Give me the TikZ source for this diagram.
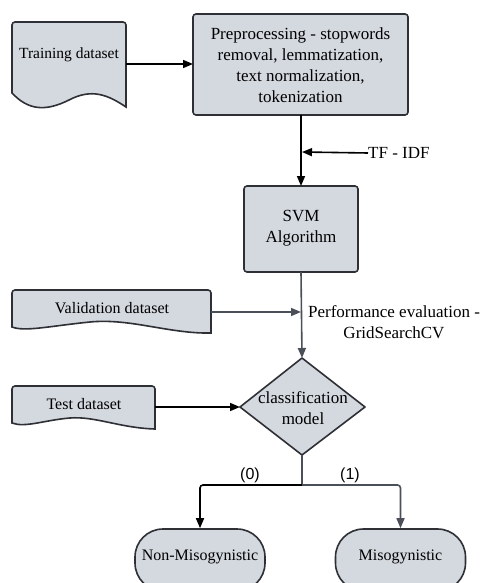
\documentclass[tikz,border=0pt]{standalone}
\usepackage{fontspec}
\setmainfont{Liberation Serif}
\newfontfamily\lsans{Liberation Sans}
\usetikzlibrary{arrows.meta}
\definecolor{boxfill}{HTML}{D4D8DF}
\definecolor{edge}{HTML}{2E3035}
\definecolor{grayline}{HTML}{4B5058}
\tikzset{
  shp/.style={draw=edge, fill=boxfill, line width=1.6pt},
  rbox/.style={shp, rounded corners=3pt},
  lbl/.style={font=\fontsize{17}{21}\selectfont, align=center, inner sep=0pt},
  conn/.style={line width=1.6pt, draw=black, -{Triangle[length=10pt,width=8pt]}},
  gconn/.style={conn, draw=grayline, -{Triangle[length=10pt,width=8pt,fill=grayline]}},
  term/.style={shp, rounded corners=28pt, minimum width=130pt, minimum height=62pt, inner sep=0pt}
}
\begin{document}
\begin{tikzpicture}[x=1pt,y=-1pt]
\useasboundingbox[fill=white] (0,0) rectangle (484,583);
% Training dataset (document)
\draw[shp] (12,93) -- (12,25) [rounded corners=3pt] -- (12,22) -- (126,22) [sharp corners] -- (126,107)
  .. controls (108,95) and (92,88) .. (69,100) .. controls (45,112) and (28,110) .. (12,93) -- cycle;
\node[lbl, font=\fontsize{15.5}{21}\selectfont] (train) at (69,55) {Training dataset};
\coordinate (trainR) at (126,64);
% Preprocessing
\draw[rbox] (193,14) rectangle (408,115);
\node[lbl] (pre) at (300.5,65) {Preprocessing - stopwords\\removal, lemmatization,\\text normalization,\\tokenization};
\coordinate (preL) at (193,64);
\coordinate (preB) at (301,115);
% SVM
\draw[rbox] (244,186) rectangle (358,272);
\node[lbl] (svm) at (301,228) {SVM\\Algorithm};
\coordinate (svmT) at (301,186);
\coordinate (svmB) at (301,272);
% TF-IDF
\node[lbl, anchor=west] (tfidf) at (368,153) {TF - IDF};
\coordinate (tfJ) at (302,152);
% Validation dataset
\draw[shp] (12,327) -- (12,293) [rounded corners=3pt] -- (12,290) -- (211,290) [sharp corners] -- (211,333)
  .. controls (170,334) and (130,318) .. (90,322) .. controls (50,326) and (25,332) .. (12,327) -- cycle;
\node[lbl, font=\fontsize{16}{21}\selectfont] (val) at (112,308) {Validation dataset};
\coordinate (valR) at (211,312);
\coordinate (valJ) at (301,312);
\node[lbl] (perf) at (394,322) {Performance evaluation -\\GridSearchCV};
% Diamond
\coordinate (dT) at (302,358);
\coordinate (dR) at (365,407);
\coordinate (dB) at (302,455);
\coordinate (dL) at (240,407);
\draw[shp, line join=round] (dT) -- (dR) -- (dB) -- (dL) -- cycle;
\node[lbl] (cls) at (303,408) {classification\\model};
% Test dataset
\draw[shp] (12,423) -- (12,389) [rounded corners=3pt] -- (12,386) -- (155,386) [sharp corners] -- (155,429)
  .. controls (120,428) and (95,416) .. (70,418) .. controls (45,420) and (25,428) .. (12,423) -- cycle;
\node[lbl, font=\fontsize{16}{21}\selectfont] (tst) at (84,404) {Test dataset};
\coordinate (tstR) at (155,407);
% Terminals
\node[term] (non) at (200,560) {};
\node[lbl, font=\fontsize{16}{21}\selectfont] (nont) at (200,557) {Non-Misogynistic};
\node[term] (mis) at (400.5,560) {};
\node[lbl, font=\fontsize{16}{21}\selectfont] (mist) at (400.5,557) {Misogynistic};
\coordinate (br) at (302,485);
% connectors
\draw[conn] (trainR) -- (preL);
\draw[conn] (preB) -- (svmT);
\draw[conn] (tfidf.west) -- (tfJ);
\draw[gconn] (svmB) -- (dT);
\draw[gconn] (valR) -- (valJ);
\draw[conn] (tstR) -- (dL);
\draw[line width=1.6pt, draw=grayline] (dB) -- (br);
\draw[conn, rounded corners=3pt] (br) -| (non.north);
\draw[gconn, rounded corners=3pt] (br) -| (mis.north);
\node[font=\lsans\fontsize{16}{18}\selectfont] (l0) at (250,475) {(0)};
\node[font=\lsans\fontsize{16}{18}\selectfont] (l1) at (350,475) {(1)};
\end{tikzpicture}
\end{document}
